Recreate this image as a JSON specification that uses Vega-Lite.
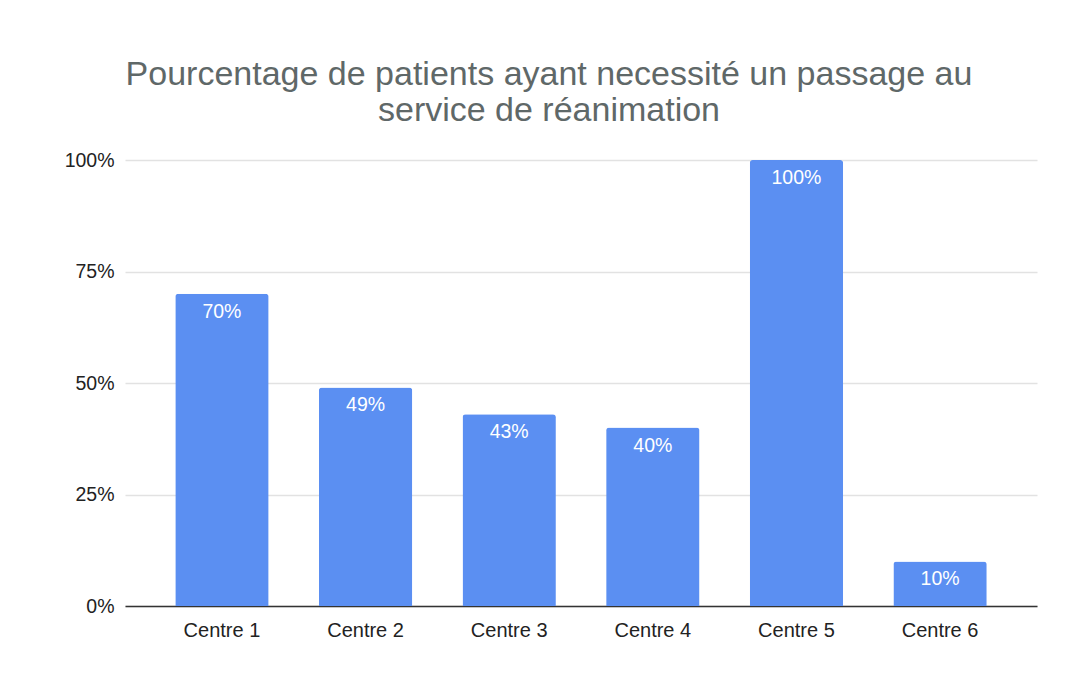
{
  "$schema": "https://vega.github.io/schema/vega-lite/v6.json",
  "autosize": "none",
  "width": 912,
  "height": 446,
  "padding": {"left": 125, "top": 160, "right": 50, "bottom": 83},
  "background": "white",
  "config": {"view": {"stroke": null}, "font": "Liberation Sans"},
  "title": {
    "text": ["Pourcentage de patients ayant necessité un passage au", "service de réanimation"],
    "fontSize": 34,
    "fontWeight": "normal",
    "color": "#5f6868",
    "font": "Liberation Sans",
    "anchor": "middle",
    "dx": -32,
    "lineHeight": 36,
    "offset": 22
  },
  "data": {
    "values": [
      {"centre": "Centre 1", "pct": 0.70, "label": "70%"},
      {"centre": "Centre 2", "pct": 0.49, "label": "49%"},
      {"centre": "Centre 3", "pct": 0.43, "label": "43%"},
      {"centre": "Centre 4", "pct": 0.40, "label": "40%"},
      {"centre": "Centre 5", "pct": 1.00, "label": "100%"},
      {"centre": "Centre 6", "pct": 0.10, "label": "10%"}
    ]
  },
  "encoding": {
    "x": {
      "field": "centre", "type": "nominal", "sort": null,
      "scale": {"paddingInner": 0.35, "paddingOuter": 0.35},
      "axis": {
        "title": null, "labelAngle": 0, "ticks": false,
        "domainColor": "#333333", "domainWidth": 1.5,
        "labelFontSize": 20, "labelColor": "#222222", "labelPadding": 14,
        "labelFont": "Liberation Sans"
      }
    },
    "y": {
      "field": "pct", "type": "quantitative",
      "scale": {"domain": [0, 1]},
      "axis": {
        "title": null, "format": ".0%", "values": [0, 0.25, 0.5, 0.75, 1],
        "ticks": false, "domain": false,
        "gridColor": "#e2e2e2", "gridWidth": 1.5,
        "labelFontSize": 19.5, "labelColor": "#222222", "labelPadding": 11,
        "labelFont": "Liberation Sans"
      }
    }
  },
  "layer": [
    {
      "mark": {"type": "bar", "color": "#5b8ff2", "cornerRadiusTopLeft": 3, "cornerRadiusTopRight": 3}
    },
    {
      "mark": {"type": "text", "color": "white", "fontSize": 19.5, "baseline": "middle", "dy": 18, "font": "Liberation Sans"},
      "encoding": {"text": {"field": "label"}}
    }
  ]
}
